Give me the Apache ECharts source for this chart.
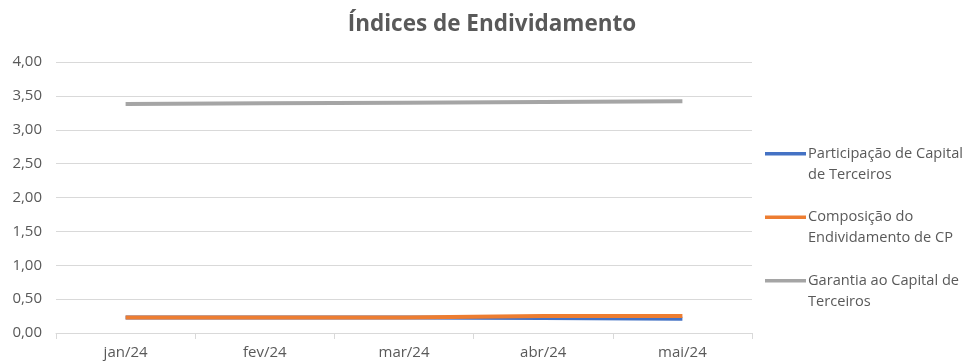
<!DOCTYPE html>
<html>
<head>
<meta charset="utf-8">
<script src="https://cdn.jsdelivr.net/npm/echarts@6/dist/echarts.min.js"></script>
<style>
html,body{margin:0;padding:0;background:#fff;}
#chart{width:967px;height:362px;}
</style>
</head>
<body>
<div id="chart"></div>
<script>
// Índices de endividamento, mensal
const months = ['jan/24', 'fev/24', 'mar/24', 'abr/24', 'mai/24'];
const participacao = [0.23, 0.23, 0.23, 0.22, 0.21];
const composicao = [0.23, 0.23, 0.23, 0.25, 0.25];
const garantia = [3.38, 3.39, 3.40, 3.41, 3.42];
const seriesNames = [
  'Participação de Capital\nde Terceiros',
  'Composição do\nEndividamento de CP',
  'Garantia ao Capital de\nTerceiros'
];
const yTicks = { min: 0, max: 4, step: 0.5 };

const font = 'Open Sans, Liberation Sans, sans-serif';
const textColor = '#595959';
const gridColor = '#d9d9d9';

// legend swatch: a bar on the first text line, with an empty point stretching the box
const swatch = 'path://M0,0H41V3.5H0Z M41,24L41,24';

const chart = echarts.init(document.getElementById('chart'));
chart.setOption({
  animation: false,
  title: {
    text: 'Índices de Endividamento',
    left: 487, top: 8, textAlign: 'center',
    textStyle: { fontFamily: font, fontWeight: 'bold', fontSize: 22.5, color: textColor }
  },
  legend: {
    orient: 'vertical',
    left: 765, top: 143,
    padding: 0,
    itemWidth: 41, itemHeight: 24,
    itemGap: 21.5,
    icon: swatch,
    data: seriesNames,
    textStyle: { fontFamily: font, fontSize: 14.6, color: textColor, lineHeight: 21, padding: [0, 0, 0, -3] }
  },
  grid: { left: 56, right: 215, top: 62, bottom: 29 },
  xAxis: {
    type: 'category',
    data: months,
    boundaryGap: true,
    axisLine: { lineStyle: { color: gridColor } },
    axisTick: { show: true, length: 6, lineStyle: { color: gridColor } },
    axisLabel: { fontFamily: font, fontSize: 15, color: textColor, margin: 12 }
  },
  yAxis: {
    type: 'value',
    min: yTicks.min, max: yTicks.max, interval: yTicks.step,
    axisLine: { show: false },
    axisTick: { show: false },
    splitLine: { lineStyle: { color: gridColor } },
    axisLabel: {
      fontFamily: font, fontSize: 15, color: textColor, margin: 14,
      formatter: v => v.toFixed(2).replace('.', ',')
    }
  },
  series: [
    { name: seriesNames[0], type: 'line', data: participacao, symbol: 'none',
      lineStyle: { width: 4, color: '#4472C4' }, itemStyle: { color: '#4472C4' } },
    { name: seriesNames[1], type: 'line', data: composicao, symbol: 'none',
      lineStyle: { width: 4, color: '#ED7D31' }, itemStyle: { color: '#ED7D31' } },
    { name: seriesNames[2], type: 'line', data: garantia, symbol: 'none',
      lineStyle: { width: 4, color: '#A5A5A5' }, itemStyle: { color: '#A5A5A5' } }
  ]
});
</script>
</body>
</html>
